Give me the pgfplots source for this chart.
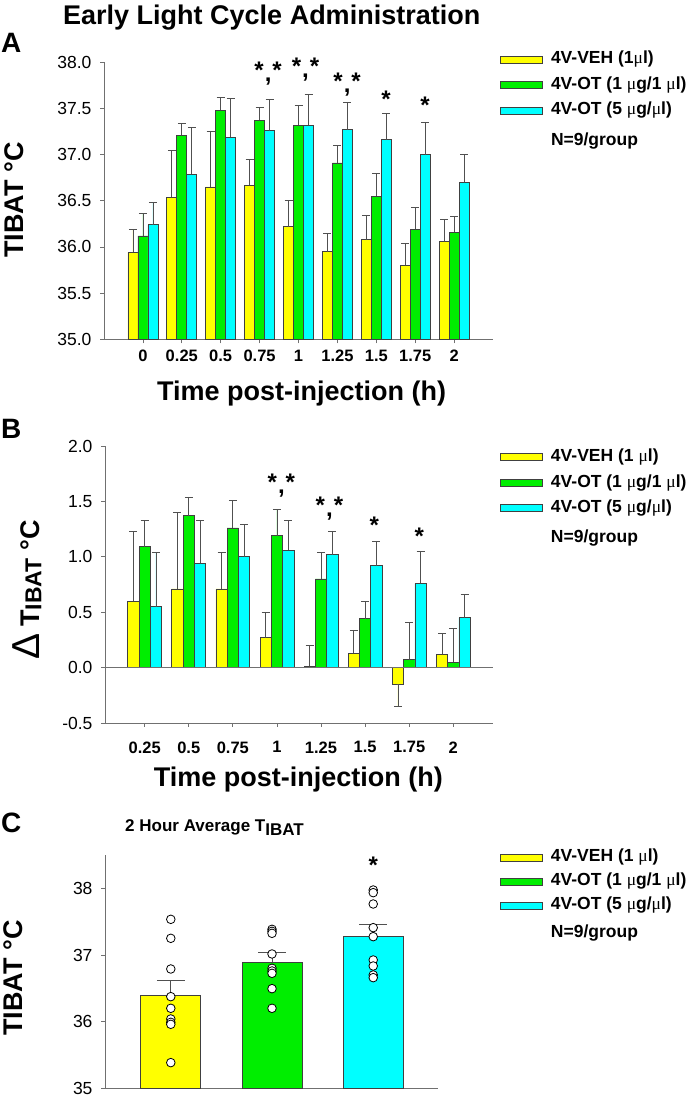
\documentclass[border=0pt]{standalone}
\usepackage{pgfplots}
\pgfplotsset{compat=1.18}
\usepackage{fontspec}
\setmainfont{Liberation Sans}
\newfontfamily\serif{Liberation Serif}
\definecolor{cyel}{HTML}{FFFF00}
\definecolor{cgrn}{HTML}{00EE00}
\definecolor{ccyn}{HTML}{00FFFF}
\definecolor{axgray}{HTML}{707070}
\definecolor{bargray}{HTML}{404040}
\definecolor{errgray}{HTML}{505050}
\newcommand{\mmu}{{\serif\mdseries μ}}
\newcommand{\sts}{*\kern1pt\raisebox{-3pt}{,}\kern1pt*}
\pgfplotsset{
  panel/.style={
    scale only axis, anchor=south west,
    axis x line=bottom, axis y line=left,
    axis line style={-, draw=axgray, line width=0.8pt},
    tick align=outside, major tick length=4pt,
    every tick/.style={draw=axgray, line width=0.8pt},
    tick label style={font=\fontsize{17.5}{20}\selectfont},
    yticklabel style={xshift=-5pt},
    /pgf/number format/assume math mode=true,
    clip mode=individual,
    legend cell align=left,
    legend style={draw=none, fill=none, inner sep=0pt, anchor=north west,
      row sep=9.5pt, font=\bfseries\fontsize{17.5}{20}\selectfont,
      nodes={inner sep=0pt, text height=12.5pt, text depth=3.5pt},
      /tikz/every odd column/.append style={column sep=8pt}},
  },
  legsw/.style={legend image code/.code={\draw[fill=#1,draw=bargray,line width=0.8pt] (0pt,-3.5pt) rectangle (42pt,3.5pt);}},
  eb/.style={error bars/.cd, y dir=plus, y explicit,
    error bar style={draw=errgray, line width=0.8pt},
    error mark options={rotate=90, draw=errgray, line width=0.8pt, mark size=#1}},
}
\begin{document}
\begin{tikzpicture}
\useasboundingbox (0,0) rectangle (700pt,1097pt);
% ---------------- Panel A ----------------
\begin{axis}[panel, at={(104pt,757.7pt)}, width=389pt, height=277pt,
  xmin=-1, xmax=9, ymin=35, ymax=38,
  ytick={35,35.5,36,36.5,37,37.5,38},
  yticklabel style={/pgf/number format/.cd, fixed, fixed zerofill, precision=1},
  xtick={0,...,8}, xticklabels={0,0.25,0.5,0.75,1,1.25,1.5,1.75,2},
  xticklabel style={font=\bfseries\fontsize{16.5}{19}\selectfont, yshift=-3pt},
  ybar=0pt, bar width=10pt,
  legend style={at={(1.018,1.040)}},
]
\addplot[fill=cyel, draw=bargray, line width=0.7pt, legsw=cyel, eb=4pt] coordinates {
 (0,35.94) +- (0,0.25) (1,36.54) +- (0,0.51) (2,36.65) +- (0,0.60)
 (3,36.67) +- (0,0.28) (4,36.22) +- (0,0.28) (5,35.95) +- (0,0.20)
 (6,36.08) +- (0,0.26) (7,35.80) +- (0,0.24) (8,36.06) +- (0,0.24)};
\addlegendentry{4V-VEH (1\mmu l)}
\addplot[fill=cgrn, draw=bargray, line width=0.7pt, legsw=cgrn, eb=4pt] coordinates {
 (0,36.12) +- (0,0.24) (1,37.21) +- (0,0.13) (2,37.48) +- (0,0.14)
 (3,37.37) +- (0,0.14) (4,37.32) +- (0,0.21) (5,36.91) +- (0,0.19)
 (6,36.55) +- (0,0.25) (7,36.19) +- (0,0.24) (8,36.16) +- (0,0.17)};
\addlegendentry{4V-OT (1 \mmu g/1 \mmu l)}
\addplot[fill=ccyn, draw=bargray, line width=0.7pt, legsw=ccyn, eb=4pt] coordinates {
 (0,36.24) +- (0,0.24) (1,36.79) +- (0,0.50) (2,37.19) +- (0,0.42)
 (3,37.26) +- (0,0.34) (4,37.32) +- (0,0.33) (5,37.27) +- (0,0.30)
 (6,37.16) +- (0,0.29) (7,37.00) +- (0,0.35) (8,36.70) +- (0,0.30)};
\addlegendentry{4V-OT (5 \mmu g/\mmu l)}
\addlegendimage{empty legend}
\addlegendentry{\raisebox{-5pt}{N=9/group}}
\begin{scope}[every node/.style={anchor=base, font=\bfseries\fontsize{24}{27}\selectfont, inner sep=0pt}]
\node at (axis cs:3.22,37.82) {\sts};
\node at (axis cs:4.18,37.87) {\sts};
\node at (axis cs:5.25,37.70) {\sts};
\node at (axis cs:6.25,37.51) {*};
\node at (axis cs:7.25,37.44) {*};
\end{scope}
\end{axis}
% ---------------- Panel B ----------------
\begin{axis}[panel, at={(105pt,374pt)}, width=388pt, height=277pt,
  xmin=-0.9, xmax=7.9, ymin=-0.5, ymax=2,
  ytick={-0.5,0,0.5,1,1.5,2},
  yticklabel style={/pgf/number format/.cd, fixed, fixed zerofill, precision=1},
  xtick={0,...,7}, xticklabels={0.25,0.5,0.75,1,1.25,1.5,1.75,2},
  xticklabel style={font=\bfseries\fontsize{16.5}{19}\selectfont, yshift=-11pt},
  ybar=0pt, bar width=11.3pt,
  legend style={at={(1.018,0.989)}},
]
\addplot[fill=cyel, draw=bargray, line width=0.7pt, legsw=cyel, eb=4pt] coordinates {
 (0,0.60) +- (0,0.63) (1,0.71) +- (0,0.69) (2,0.71) +- (0,0.33)
 (3,0.27) +- (0,0.23) (4,0.01) +- (0,0.19) (5,0.13) +- (0,0.21)
 (6,-0.15) +- (0,-0.20) (7,0.12) +- (0,0.19)};
\addlegendentry{4V-VEH (1 \mmu l)}
\addplot[fill=cgrn, draw=bargray, line width=0.7pt, legsw=cgrn, eb=4pt] coordinates {
 (0,1.09) +- (0,0.24) (1,1.37) +- (0,0.17) (2,1.26) +- (0,0.25)
 (3,1.19) +- (0,0.24) (4,0.80) +- (0,0.24) (5,0.44) +- (0,0.16)
 (6,0.07) +- (0,0.34) (7,0.05) +- (0,0.30)};
\addlegendentry{4V-OT (1 \mmu g/1 \mmu l)}
\addplot[fill=ccyn, draw=bargray, line width=0.7pt, legsw=ccyn, eb=4pt] coordinates {
 (0,0.55) +- (0,0.49) (1,0.94) +- (0,0.39) (2,1.00) +- (0,0.29)
 (3,1.06) +- (0,0.27) (4,1.02) +- (0,0.21) (5,0.92) +- (0,0.22)
 (6,0.76) +- (0,0.29) (7,0.45) +- (0,0.21)};
\addlegendentry{4V-OT (5 \mmu g/\mmu l)}
\addlegendimage{empty legend}
\addlegendentry{\raisebox{-4pt}{N=9/group}}
\draw[axgray, line width=0.8pt] (axis cs:-0.9,0) -- (axis cs:7.9,0);
\begin{scope}[every node/.style={anchor=base, font=\bfseries\fontsize{24}{27}\selectfont, inner sep=0pt}]
\node at (axis cs:3.1,1.60) {\sts};
\node at (axis cs:4.19,1.39) {\sts};
\node at (axis cs:5.21,1.21) {*};
\node at (axis cs:6.23,1.11) {*};
\end{scope}
\end{axis}
% ---------------- Panel C ----------------
\begin{axis}[panel, at={(105pt,8.7pt)}, width=333pt, height=233.3pt,
  xmin=-0.65, xmax=2.64, ymin=35, ymax=38.5,
  ytick={35,36,37,38}, xtick=\empty,
  legend style={at={(1.186,1.019)}, nodes={text height=11pt, text depth=3.5pt}},
]
\addplot[ybar, bar width=60pt, bar shift=0pt, fill=cyel, draw=bargray, line width=0.7pt, legsw=cyel, eb=14pt] coordinates {(0,36.39) +- (0,0.23)};
\addlegendentry{4V-VEH (1 \mmu l)}
\addplot[ybar, bar width=60pt, bar shift=0pt, fill=cgrn, draw=bargray, line width=0.7pt, legsw=cgrn, eb=14pt] coordinates {(1,36.895) +- (0,0.14)};
\addlegendentry{4V-OT (1 \mmu g/1 \mmu l)}
\addplot[ybar, bar width=60pt, bar shift=0pt, fill=ccyn, draw=bargray, line width=0.7pt, legsw=ccyn, eb=14pt] coordinates {(2,37.275) +- (0,0.18)};
\addlegendentry{4V-OT (5 \mmu g/\mmu l)}
\addlegendimage{empty legend}
\addlegendentry{\raisebox{-4pt}{N=9/group}}
\addplot[only marks, mark=*, mark size=4.3pt, mark options={fill=white, draw=black, line width=0.8pt}, forget plot] coordinates {
 (0,37.535) (0,37.25) (0,36.79) (0,36.375) (0,36.2) (0,36.04) (0,35.99) (0,35.96) (0,35.385)
 (1,37.385) (1,37.355) (1,37.325) (1,37.015) (1,36.8) (1,36.76) (1,36.725) (1,36.495) (1,36.2)
 (2,37.975) (2,37.935) (2,37.765) (2,37.41) (2,37.275) (2,36.925) (2,36.835) (2,36.7) (2,36.66)};
\node[anchor=base, font=\bfseries\fontsize{24}{27}\selectfont, inner sep=0pt] at (axis cs:2,38.22) {*};
\end{axis}
% ---------------- Texts ----------------
\node[anchor=base west, font=\bfseries\fontsize{27}{30}\selectfont, inner sep=0pt] at (63pt,1072pt) {Early Light Cycle Administration};
\node[anchor=base west, font=\bfseries\fontsize{28}{30}\selectfont, inner sep=0pt] at (1pt,1044pt) {A};
\node[anchor=base west, font=\bfseries\fontsize{28}{30}\selectfont, inner sep=0pt] at (1pt,658.7pt) {B};
\node[anchor=base west, font=\bfseries\fontsize{28}{30}\selectfont, inner sep=0pt] at (1pt,264.5pt) {C};
\node[anchor=base, font=\bfseries\fontsize{27}{30}\selectfont, inner sep=0pt] at (301.5pt,696.3pt) {Time post-injection (h)};
\node[anchor=base, font=\bfseries\fontsize{27}{30}\selectfont, inner sep=0pt] at (298.3pt,310.3pt) {Time post-injection (h)};
\node[rotate=90, font=\bfseries\fontsize{27}{30}\selectfont, inner sep=0pt] at (14pt,897pt) {TIBAT °C};
\node[rotate=90, font=\bfseries\fontsize{27}{30}\selectfont, inner sep=0pt] at (13pt,119pt) {TIBAT °C};
\node[rotate=90, font=\bfseries\fontsize{27}{30}\selectfont, inner sep=0pt] at (27pt,507pt) {{\mdseries\fontsize{39}{40}\selectfont Δ}\hspace{7pt}T\raisebox{-2pt}{\fontsize{23}{25}\selectfont IBAT} °C};
\node[anchor=base west, font=\bfseries\fontsize{17}{20}\selectfont, inner sep=0pt] at (125pt,265.3pt) {2 Hour Average T\raisebox{-4pt}{IBAT}};
\end{tikzpicture}
\end{document}
